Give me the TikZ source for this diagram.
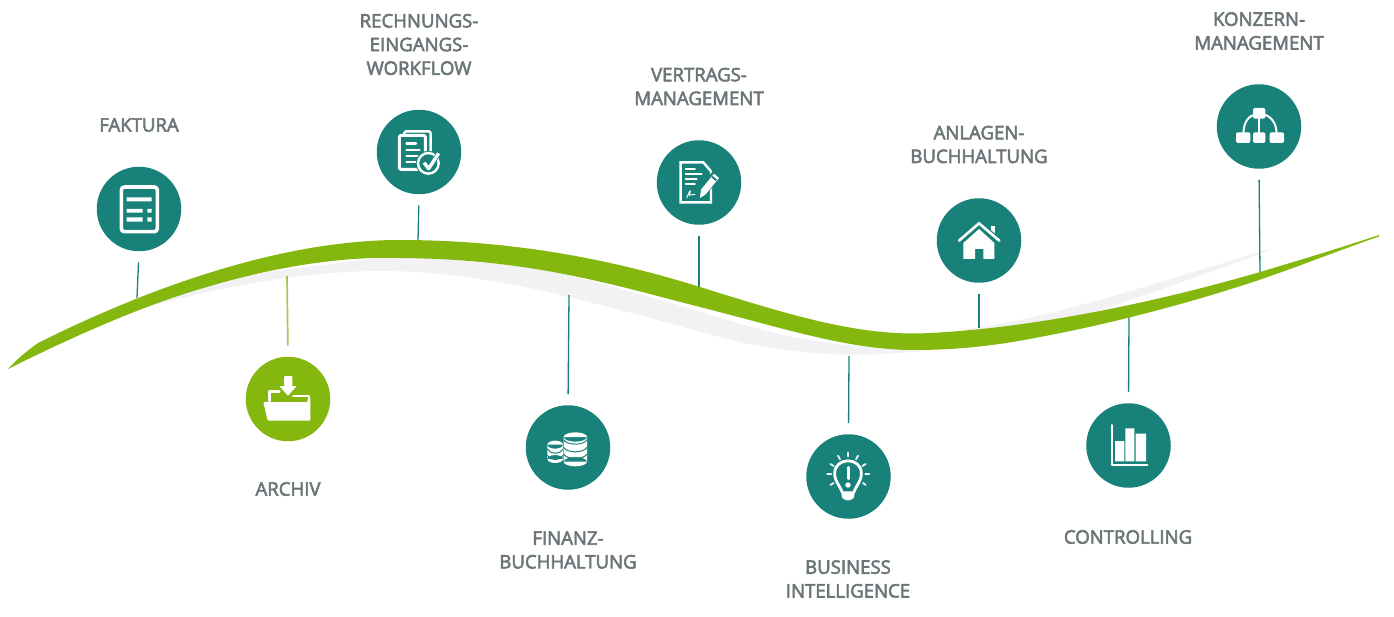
\documentclass[tikz,border=0pt]{standalone}
\usepackage{fontspec}
\setmainfont[FakeBold=3]{Open Sans}
\definecolor{teal}{HTML}{18827A}
\definecolor{leaf}{HTML}{85B80F}
\definecolor{leaflight}{HTML}{A0CA55}
\definecolor{shadowgrey}{HTML}{F2F2F4}
\definecolor{labelgrey}{HTML}{6C7678}
\tikzset{
  badge/.style={circle,draw=none,fill=#1,minimum size=84.5pt,inner sep=0pt},
  caption/.style={text=labelgrey,font=\fontsize{18.6}{23.7}\selectfont,align=center,inner sep=0pt,anchor=center},
  stem/.style={draw=teal,line width=1.3pt,shorten <=11pt},
  iconat/.style n args={4}{shift={(#1,#2)},scale=1/3,shift={(-#3,-#4)}},
  ink/.style={draw=white,line width=#1,line cap=round,line join=round},
  ink/.default=2.6pt
}
\begin{document}
\begin{tikzpicture}[x=1pt,y=-1pt]
\useasboundingbox (0,0) rectangle (1394,617);
% soft shadow under the band
\fill[shadowgrey] (130,312) .. controls (210,289) and (300,270) .. (390,271)
  .. controls (500,273) and (600,305) .. (720,337)
  .. controls (780,353) and (850,360) .. (930,350)
  -- (930,345) .. controls (880,350) and (830,345) .. (783,335)
  .. controls (740,325) and (690,308) .. (650,297)
  .. controls (610,286) and (570,275) .. (533,267)
  -- (400,255) -- (207,280) -- cycle;
\fill[shadowgrey] (960,330) .. controls (1050,320) and (1170,278) .. (1270,249)
  -- (1270,250) .. controls (1230,265) and (1170,287) .. (1100,310)
  -- (1000,335) -- cycle;
% badges
\node[badge=teal] (faktura) at (139,209) {};
\node[badge=teal] (rechnung) at (419,152) {};
\node[badge=leaf] (archiv) at (288,399) {};
\node[badge=teal] (finanz) at (568,447.5) {};
\node[badge=teal] (vertrag) at (699,182.5) {};
\node[badge=teal] (anlagen) at (979,240.5) {};
\node[badge=teal] (bi) at (848.5,476.5) {};
\node[badge=teal] (controlling) at (1128.5,445.5) {};
\node[badge=teal] (konzern) at (1259,126.5) {};
% stems run from each badge to the band
\coordinate (fakturaFoot) at (137,298);
\coordinate (rechnungFoot) at (418,241);
\coordinate (archivFoot) at (287,276);
\coordinate (finanzFoot) at (569,295);
\coordinate (vertragFoot) at (699,287);
\coordinate (anlagenFoot) at (979,328);
\coordinate (biFoot) at (849,356);
\coordinate (controllingFoot) at (1129,317);
\coordinate (konzernFoot) at (1260,273);
\draw[stem] (faktura.south) -- (fakturaFoot);
\draw[stem] (rechnung.south) -- (rechnungFoot);
\draw[stem,draw=leaflight,line width=1.7pt] (archiv.north) -- (archivFoot);
\draw[stem] (finanz.north) -- (finanzFoot);
\draw[stem] (vertrag.south) -- (vertragFoot);
\draw[stem] (anlagen.south) -- (anlagenFoot);
\draw[stem] (bi.north) -- (biFoot);
\draw[stem] (controlling.north) -- (controllingFoot);
\draw[stem] (konzern.south) -- (konzernFoot);
% green band
\fill[leaf] (8,369) .. controls (16,360) and (28,350) .. (38,343)
  .. controls (130,297) and (270,240) .. (400,240)
  .. controls (520,240) and (620,262) .. (700,287)
  .. controls (790,315) and (860,337) .. (930,333)
  .. controls (1030,328) and (1150,304) .. (1260,272)
  .. controls (1300,260) and (1340,248) .. (1379,235)
  -- (1379,236.5) .. controls (1340,250) and (1300,266) .. (1259,280)
  .. controls (1190,303) and (1110,324) .. (1040,337)
  .. controls (1000,345) and (960,350) .. (915,350)
  .. controls (850,350) and (790,330) .. (700,307)
  .. controls (610,284) and (530,259) .. (400,258)
  .. controls (340,256) and (270,268) .. (207,287)
  .. controls (150,303) and (80,333) .. (8,369) -- cycle;
% invoice sheet
\begin{scope}[iconat={139}{209}{237}{357}]
  \draw[ink=3.6pt,rounded corners=3pt] (184,291) rectangle (292,425);
  \fill[white] (200,322) rectangle (275,334) (200,357) rectangle (248,368) (262,357) rectangle (275,368) (200,382) rectangle (248,395) (262,382) rectangle (275,395);
\end{scope}
% document stack with check mark
\begin{scope}[iconat={419}{152}{1077}{186}]
  \draw[ink=2.4pt,rounded corners=2pt] (1033,135) -- (1033,124) -- (1112,124) -- (1112,200);
  \draw[ink=3pt,fill=teal,rounded corners=2pt] (1018,238) rectangle (1096,136);
  \draw[ink=2.8pt] (1040,161) -- (1068,161) (1040,180) -- (1078,180) (1040,198) -- (1072,198) (1040,216) -- (1066,216);
  \draw[draw=teal,fill=teal] (1105,220) circle (37);
  \draw[ink=2.4pt,fill=teal] (1105,220) circle (31);
  \draw[draw=teal,line width=5pt,line join=round] (1094,220) -- (1106,236) -- (1136,190);
  \draw[ink=3.4pt,line cap=butt] (1092,218) -- (1106,236) -- (1136,190);
\end{scope}
% folder with download arrow
\begin{scope}[iconat={288}{399}{174}{144}]
  \draw[ink=2.6pt] (118,150) -- (118,122) -- (148,122) (190,135) -- (237,135) -- (237,200);
  \fill[white,rounded corners=1pt] (100,153) -- (233,153) -- (233,140) -- (241,140) -- (241,209) -- (113,209) -- cycle;
  \fill[leaf] (142,104) -- (205,104) -- (174,141) -- cycle;
  \fill[white,rounded corners=1pt] (162,75) rectangle (187,105);
  \fill[white] (148,105) -- (200,105) -- (174,134) -- cycle;
\end{scope}
% coin stacks
\begin{scope}[iconat={568}{447}{205}{142}]
  \fill[white] (143,135) rectangle (190,178) (166.5,135) ellipse (23.5 and 12) (166.5,178) ellipse (23.5 and 12);
  \draw[teal,line width=1pt] (143,148) .. controls (150,165) and (183,165) .. (190,148)
    (143,167) .. controls (150,184) and (183,184) .. (190,167);
  \fill[white] (192,112) rectangle (262,186) (227,112) ellipse (35 and 14) (227,186) ellipse (35 and 14);
  \draw[teal,line width=1pt] (192,120) .. controls (202,138) and (252,138) .. (262,120)
    (192,143) .. controls (202,161) and (252,161) .. (262,143)
    (192,163) .. controls (202,181) and (252,181) .. (262,163);
\end{scope}
% contract with pen
\begin{scope}[iconat={699}{182}{177}{157}]
  \draw[ink=2.4pt,line join=miter] (190,98) -- (122,98) -- (122,218) -- (213,218) -- (213,125) -- cycle;
  \draw[ink=1.8pt] (137,118) -- (165,118) (137,132) -- (185,132) (137,148) -- (170,148) (137,163) -- (165,163);
  \draw[ink=.9pt] (140,205) .. controls (146,190) and (152,178) .. (151,186) .. controls (150,192) and (145,200) .. (150,196) -- (165,194);
  \fill[teal] (170,212) -- (172,172) -- (226,118) -- (245,140) -- (190,205) -- cycle;
  \fill[white] (180,205) -- (183,180) -- (222,132) -- (237,145) -- (198,193) -- cycle;
  \fill[teal] (214,143) -- (218,139) -- (231,150) -- (227,154) -- cycle;
\end{scope}
% house
\begin{scope}[iconat={979}{240}{1017}{331}]
  \fill[white] (1052,288) rectangle (1066,318);
  \draw[draw=teal,line width=5pt,line join=miter] (948,338) -- (1017,283) -- (1086,338);
  \draw[ink=2.6pt,line join=miter] (957,333) -- (1017,281) -- (1078,333);
  \fill[white] (970,340) -- (1017,298) -- (1063,340) -- (1063,388) -- (1030,388) -- (1030,358) -- (1005,358) -- (1005,388) -- (970,388) -- cycle;
\end{scope}
% light bulb with exclamation mark
\begin{scope}[iconat={848}{476}{175}{258}]
  \draw[ink=2.8pt,fill=teal] (158,308) .. controls (150,285) and (135,275) .. (135,250) .. controls (135,200) and (215,200) .. (215,250) .. controls (215,275) and (200,285) .. (192,308) -- cycle;
  \fill[white] (156,310) -- (194,310) -- (194,316) .. controls (194,336) and (156,336) .. (156,316) -- cycle;
  \draw[ink=3pt] (175,232) -- (175,266);
  \fill[white] (175,285) circle (8);
  \draw[ink=1.7pt] (175,188) -- (175,199) (145,197) -- (151,208) (205,197) -- (199,208) (122,222) -- (132,228) (228,222) -- (218,228) (113,252) -- (125,252) (227,252) -- (239,252) (122,285) -- (132,279) (228,285) -- (220,279);
\end{scope}
% bar chart
\begin{scope}[iconat={1128}{445}{1016}{167}]
  \draw[ink=2pt] (968,107) -- (968,227) -- (1074,227);
  \fill[white] (977,155) rectangle (1005,216) (1008,117) rectangle (1035,216) (1039,133) rectangle (1070,216);
\end{scope}
% organisation tree
\begin{scope}[iconat={1259}{126}{177}{170}]
  \draw[ink=2pt] (177,140) -- (177,195);
  \draw[ink=2pt] (130,195) .. controls (130,160) and (145,140) .. (165,135);
  \draw[ink=2pt] (230,195) .. controls (230,160) and (212,140) .. (190,135);
  \fill[white,rounded corners=2pt] (159,116) rectangle (196,148) (108,189) rectangle (151,221) (159,189) rectangle (196,221) (209,189) rectangle (252,221);
\end{scope}
% captions
\node[caption] (lfaktura) at (139,125) {FAKTURA};
\node[caption] (lrechnung) at (419,44.5) {RECHNUNGS-\\EINGANGS-\\WORKFLOW};
\node[caption] (larchiv) at (288,489) {ARCHIV};
\node[caption] (lfinanz) at (568,550) {FINANZ-\\BUCHHALTUNG};
\node[caption] (lvertrag) at (699,86.5) {VERTRAGS-\\MANAGEMENT};
\node[caption] (lanlagen) at (979,144.5) {ANLAGEN-\\BUCHHALTUNG};
\node[caption] (lbi) at (848,579) {BUSINESS\\INTELLIGENCE};
\node[caption] (lcontrolling) at (1128,537) {CONTROLLING};
\node[caption] (lkonzern) at (1259,31) {KONZERN-\\MANAGEMENT};
\end{tikzpicture}
\end{document}
